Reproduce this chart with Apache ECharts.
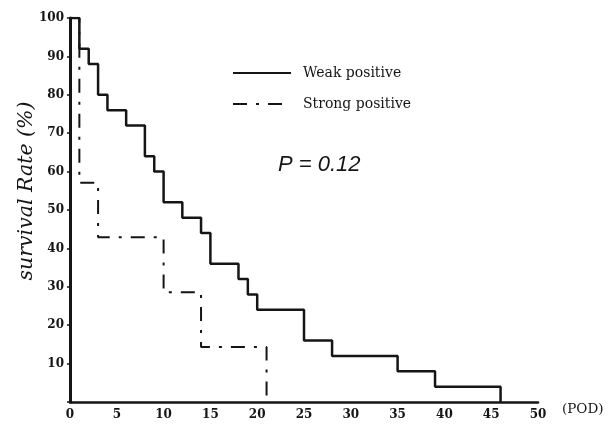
<!DOCTYPE html>
<html>
<head>
<meta charset="utf-8">
<script src="https://cdn.jsdelivr.net/npm/echarts@6/dist/echarts.min.js"></script>
<style>
  html, body { margin: 0; padding: 0; background: #fff; }
  #chart { width: 616px; height: 424px; }
</style>
</head>
<body>
<div id="chart"></div>
<script>
// survival curves (Kaplan-Meier steps), x = days (POD), y = survival %
const weakDays = [0, 1, 2, 3, 4, 6, 8, 9, 10, 12, 14, 15, 18, 19, 20, 25, 28, 35, 39, 46];
const weakRate = [100, 92, 88, 80, 76, 72, 64, 60, 52, 48, 44, 36, 32, 28, 24, 16, 12, 8, 4, 0];
const strongDays = [0, 1, 3, 10, 14, 21];
const strongRate = [100, 57.1, 42.9, 28.6, 14.3, 0];
const seriesNames = ["Weak positive", "Strong positive"];
const pText = "P = 0.12";

const ink = "#151515";
const serif = "DejaVu Serif";

let chart = echarts.init(document.getElementById("chart"), null, { renderer: "canvas" });

let pairs = (xs, ys) => xs.map((x, i) => [x, ys[i]]);

chart.setOption({
    animation: false,
    backgroundColor: "#fff",
    grid: { left: 70, right: 78, top: 18, bottom: 22 },
    legend: {
        orient: "vertical",
        left: 227,
        top: 61,
        itemWidth: 58,
        itemHeight: 14,
        itemGap: 17,
        itemStyle: { opacity: 0, borderWidth: 0 },
        textStyle: { fontFamily: serif, fontSize: 14, color: ink, padding: [0, 0, 0, 7] },
        data: seriesNames,
    },
    xAxis: {
        type: "value",
        min: 0,
        max: 50,
        interval: 5,
        splitLine: { show: false },
        axisLine: { lineStyle: { color: ink, width: 2.5 } },
        axisTick: { show: false },
        axisLabel: { fontFamily: serif, fontSize: 12, fontWeight: "bold", color: ink, margin: 7 },
    },
    yAxis: {
        type: "value",
        min: 0,
        max: 100,
        interval: 10,
        splitLine: { show: false },
        axisLine: { show: true, lineStyle: { color: ink, width: 3 } },
        axisTick: { show: true, length: 3, lineStyle: { color: ink, width: 1.5 } },
        axisLabel: {
            fontFamily: serif,
            fontSize: 12,
            fontWeight: "bold",
            color: ink,
            margin: 6,
            formatter: (v) => (v === 0 ? "" : v),
        },
    },
    graphic: [
        {
            type: "text",
            x: 27,
            y: 191,
            rotation: Math.PI / 2,
            style: {
                text: "survival Rate (%)",
                fontFamily: serif,
                fontStyle: "italic",
                fontSize: 20.5,
                fill: ink,
                align: "center",
                verticalAlign: "middle",
            },
        },
        {
            type: "text",
            x: 278,
            y: 165,
            style: {
                text: pText,
                fontFamily: "Liberation Sans",
                fontStyle: "italic",
                fontSize: 22,
                fill: ink,
                align: "left",
                verticalAlign: "middle",
            },
        },
        {
            type: "text",
            x: 562,
            y: 409,
            style: {
                text: "(POD)",
                fontFamily: serif,
                fontSize: 13.5,
                fill: ink,
                align: "left",
                verticalAlign: "middle",
            },
        },
    ],
    series: [
        {
            name: seriesNames[1],
            type: "line",
            step: "end",
            symbol: "none",
            z: 2,
            lineStyle: { color: ink, width: 2, type: [14, 9, 3, 9] },
            itemStyle: { color: ink },
            data: pairs(strongDays, strongRate),
        },
        {
            name: seriesNames[0],
            type: "line",
            step: "end",
            symbol: "none",
            z: 3,
            lineStyle: { color: ink, width: 2.5 },
            itemStyle: { color: ink },
            data: pairs(weakDays, weakRate),
        },
    ],
});
</script>
</body>
</html>
